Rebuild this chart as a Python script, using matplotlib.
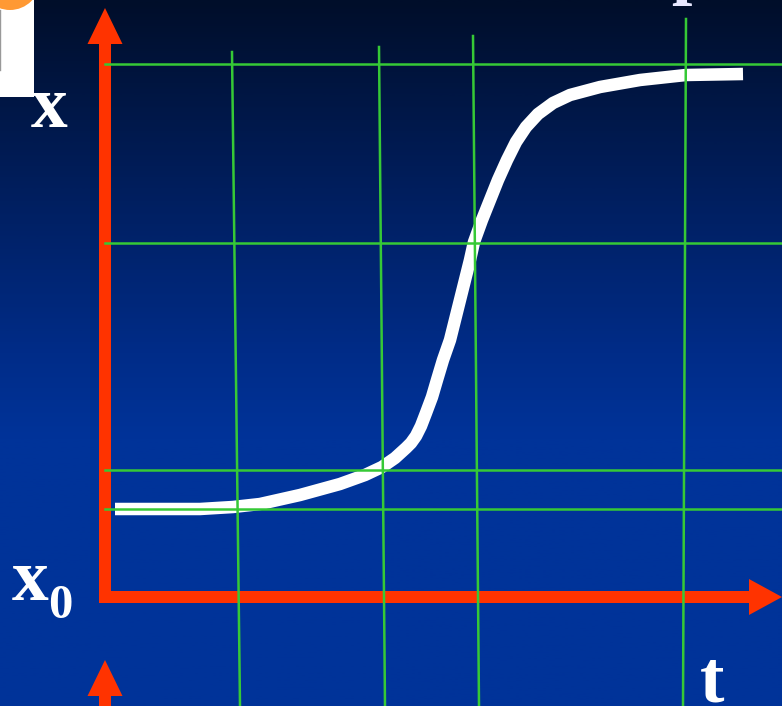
import numpy as np
import matplotlib.pyplot as plt
from matplotlib.colors import LinearSegmentedColormap
from matplotlib.patches import Rectangle, Circle

# curva x(t): arranque plano en x0, subida brusca y saturación
t_curva = [0.10, 0.95, 1.28, 1.55, 1.95, 2.35, 2.60, 2.77, 2.90, 3.01, 3.06,
           3.11, 3.16, 3.21, 3.27, 3.32, 3.38, 3.45, 3.50, 3.55, 3.60, 3.65,
           3.69, 3.77, 3.85, 3.93, 4.02, 4.11, 4.21, 4.33, 4.48, 4.65, 4.95,
           5.35, 5.81, 6.38]
x_curva = [0.88, 0.88, 0.90, 0.93, 1.02, 1.13, 1.22, 1.30, 1.39, 1.49, 1.54,
           1.61, 1.71, 1.84, 2.00, 2.17, 2.37, 2.57, 2.77, 2.97, 3.17, 3.37,
           3.55, 3.77, 3.97, 4.17, 4.37, 4.55, 4.70, 4.83, 4.94, 5.02, 5.10,
           5.17, 5.22, 5.23]

# rejilla verde (las verticales van un poco inclinadas, a mano alzada)
x_rejilla = [5.33, 3.54, 1.27, 0.88]
t_rejilla_arriba = [1.27, 2.74, 3.68, 5.81]
x_rejilla_arriba = [5.45, 5.50, 5.61, 5.78]
t_rejilla_abajo = [1.35, 2.80, 3.74, 5.78]

T_MIN, T_MAX = -1.05, 6.77
X_MIN, X_MAX = -1.09, 5.97

ROJO = "#ff3300"
VERDE = "#36c936"

fig = plt.figure(figsize=(7.82, 7.06), dpi=100)
ax = fig.add_axes([0, 0, 1, 1])
ax.set_xlim(T_MIN, T_MAX)
ax.set_ylim(X_MIN, X_MAX)
ax.axis("off")

# fondo degradado azul
fondo = LinearSegmentedColormap.from_list(
    "fondo", [(0.0, "#000e2a"), (0.25, "#001d5a"), (0.5, "#002c88"),
              (0.62, "#003399"), (1.0, "#003399")])
grad = np.linspace(0, 1, 400).reshape(-1, 1)
ax.imshow(grad, cmap=fondo, extent=(T_MIN, T_MAX, X_MIN, X_MAX),
          origin="upper", aspect="auto", zorder=0)

# ejes rojos con flecha
ax.arrow(0, 0, 0, 5.89, width=0.12, head_width=0.35, head_length=0.36,
         length_includes_head=True, color=ROJO, lw=0, zorder=2)
ax.arrow(-0.06, 0, 6.83, 0, width=0.12, head_width=0.36, head_length=0.33,
         length_includes_head=True, color=ROJO, lw=0, zorder=2)
ax.arrow(0, -1.3, 0, 0.67, width=0.12, head_width=0.35, head_length=0.36,
         length_includes_head=True, color=ROJO, lw=0, zorder=2)

# curva blanca
ax.plot(t_curva, x_curva, color="white", lw=9, solid_capstyle="butt",
        solid_joinstyle="round", zorder=3)

# rejilla
for xv in x_rejilla:
    ax.plot([0, T_MAX], [xv, xv], color=VERDE, lw=1.8, zorder=4)
for ta, xa, tb in zip(t_rejilla_arriba, x_rejilla_arriba, t_rejilla_abajo):
    ax.plot([ta, tb], [xa, X_MIN], color=VERDE, lw=1.8, zorder=4)

# etiquetas
fuente = dict(family="Liberation Serif", weight="bold", color="white", zorder=5)
ax.text(-0.74, 4.70, "x", fontsize=53, ha="left", va="baseline", **fuente)
ax.text(-0.93, -0.03, "x", fontsize=53, ha="left", va="baseline", **fuente)
ax.text(-0.57, -0.21, "0", fontsize=35, ha="left", va="baseline", **fuente)
ax.text(5.95, -1.05, "t", fontsize=53, ha="left", va="baseline", **fuente)
ax.text(5.66, 6.07, "p", fontsize=53, ha="left", va="baseline",
        family="Liberation Serif", weight="bold", color="#e8e8ff", zorder=5)

# recuadro blanco y adorno naranja de la esquina
ax.add_patch(Rectangle((T_MIN, 5.00), 0.34, 1.0, facecolor="white",
                       edgecolor="none", zorder=5))
ax.plot([T_MIN + 0.005, T_MIN + 0.005], [5.27, 5.87], color="#999999",
        lw=1, zorder=6)
ax.add_patch(Circle((T_MIN + 0.10, X_MAX + 0.20), 0.30, facecolor="#ff9933",
                    edgecolor="none", zorder=6))

fig.savefig("out.png", dpi=100)
